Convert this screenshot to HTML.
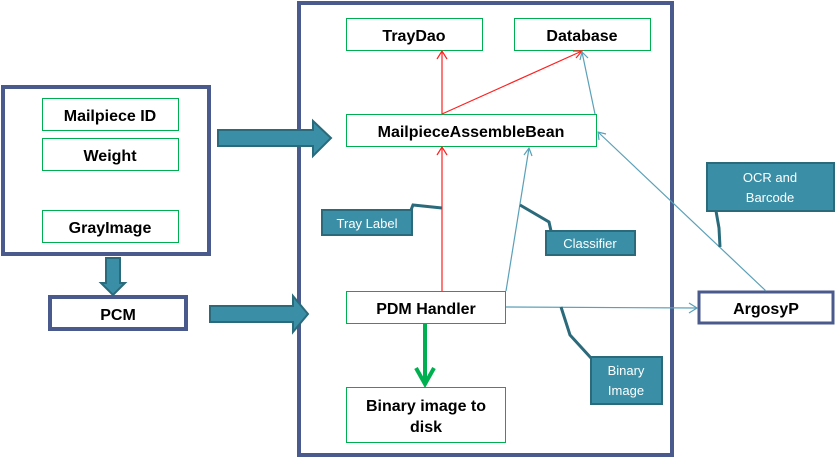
<!DOCTYPE html>
<html><head><style>
body{margin:0;background:#fff}
svg text{font-family:"Liberation Sans",sans-serif}
.b{font-weight:bold;font-size:16px;fill:#000}
.w{font-size:13px;fill:#fff}
</style></head><body>
<svg width="836" height="460" viewBox="0 0 836 460" xmlns="http://www.w3.org/2000/svg">
<!-- frames -->
<rect x="299" y="3" width="373" height="452" fill="none" stroke="#4a5a8c" stroke-width="4"/>
<rect x="3" y="87" width="206" height="167" fill="none" stroke="#4a5a8c" stroke-width="4"/>
<g fill="#fff" stroke="#00b050" stroke-width="1">
<rect x="42.5" y="98.5" width="136" height="32"/>
<rect x="42.5" y="138.5" width="136" height="32"/>
<rect x="42.5" y="210.5" width="136" height="32"/>
<rect x="346.5" y="18.5" width="136" height="32"/>
<rect x="514.5" y="18.5" width="136" height="32"/>
<rect x="346.5" y="114.5" width="250" height="32"/>
<rect x="346.5" y="291.5" width="159" height="32"/>
<rect x="346.5" y="387.5" width="159" height="55"/>
</g>
<rect x="50" y="297" width="136" height="32" fill="#fff" stroke="#4a5a8c" stroke-width="4"/>
<rect x="699" y="292" width="134" height="31" fill="#fff" stroke="#4a5a8c" stroke-width="3"/>
<!-- thick arrows -->
<g fill="#3a8fa6" stroke="#2a6a7a" stroke-width="2">
<polygon points="218,130 313,130 313,121 331,138 313,156 313,146 218,146"/>
<polygon points="210,306 293,306 293,296 308,314 293,332 293,322 210,322"/>
<polygon points="106,258 120,258 120,283 125,283 113,295 101,283 106,283"/>
</g>
<!-- red lines -->
<g stroke="#ff2020" stroke-width="1.2" fill="none">
<line x1="442" y1="291" x2="442" y2="147"/>
<polyline points="437,155 442,147 447,155"/>
<line x1="442" y1="114" x2="442" y2="51"/>
<polyline points="437,59 442,51 447,59"/>
<line x1="442" y1="114" x2="582" y2="51"/>
<polyline points="573,51 582,51 576,58"/>
</g>
<!-- blue lines -->
<g stroke="#5aa0b8" stroke-width="1.2" fill="none">
<line x1="506" y1="291" x2="529" y2="148"/>
<polyline points="524,155 529,148 532,156"/>
<line x1="595" y1="114" x2="582" y2="52"/>
<polyline points="580,60 582,52 588,58"/>
<line x1="766" y1="291" x2="598" y2="132"/>
<polyline points="599,140 598,132 606,134"/>
<line x1="506" y1="307" x2="697" y2="308"/>
<polyline points="689,303 697,308 689,313"/>
</g>
<!-- green arrow -->
<line x1="425" y1="323" x2="425" y2="383" stroke="#00b050" stroke-width="4"/>
<polyline points="416,368 425,384 434,368" fill="none" stroke="#00b050" stroke-width="4"/>
<!-- callout leaders -->
<g stroke="#2a6a7a" stroke-width="3" fill="none">
<polyline points="411,210 413,205 442,208"/>
<polyline points="551,231 549,222 520,205"/>
<polyline points="716,211 719,228 720,247"/>
<polyline points="591,358 570,335 561,307"/>
</g>
<!-- callouts -->
<g fill="#3a8fa6" stroke="#2a6a7a" stroke-width="2">
<rect x="322" y="210" width="90" height="25"/>
<rect x="546" y="231" width="89" height="24"/>
<rect x="707" y="163" width="127" height="48"/>
<rect x="591" y="357" width="71" height="47"/>
</g>
<text class="w" x="367" y="228" text-anchor="middle">Tray Label</text>
<text class="w" x="590" y="248" text-anchor="middle">Classifier</text>
<text class="w" x="770" y="182" text-anchor="middle">OCR and</text>
<text class="w" x="770" y="202" text-anchor="middle">Barcode</text>
<text class="w" x="626" y="375" text-anchor="middle">Binary</text>
<text class="w" x="626" y="395" text-anchor="middle">Image</text>
<!-- labels -->
<g class="b" text-anchor="middle">
<text class="b" x="110" y="121">Mailpiece ID</text>
<text class="b" x="110" y="161">Weight</text>
<text class="b" x="110" y="233">GrayImage</text>
<text class="b" x="118" y="320">PCM</text>
<text class="b" x="414" y="41">TrayDao</text>
<text class="b" x="582" y="41">Database</text>
<text class="b" x="471" y="137">MailpieceAssembleBean</text>
<text class="b" x="426" y="314">PDM Handler</text>
<text class="b" x="426" y="411">Binary image to</text>
<text class="b" x="426" y="432">disk</text>
<text class="b" x="766" y="314">ArgosyP</text>
</g>
</svg>
</body></html>
